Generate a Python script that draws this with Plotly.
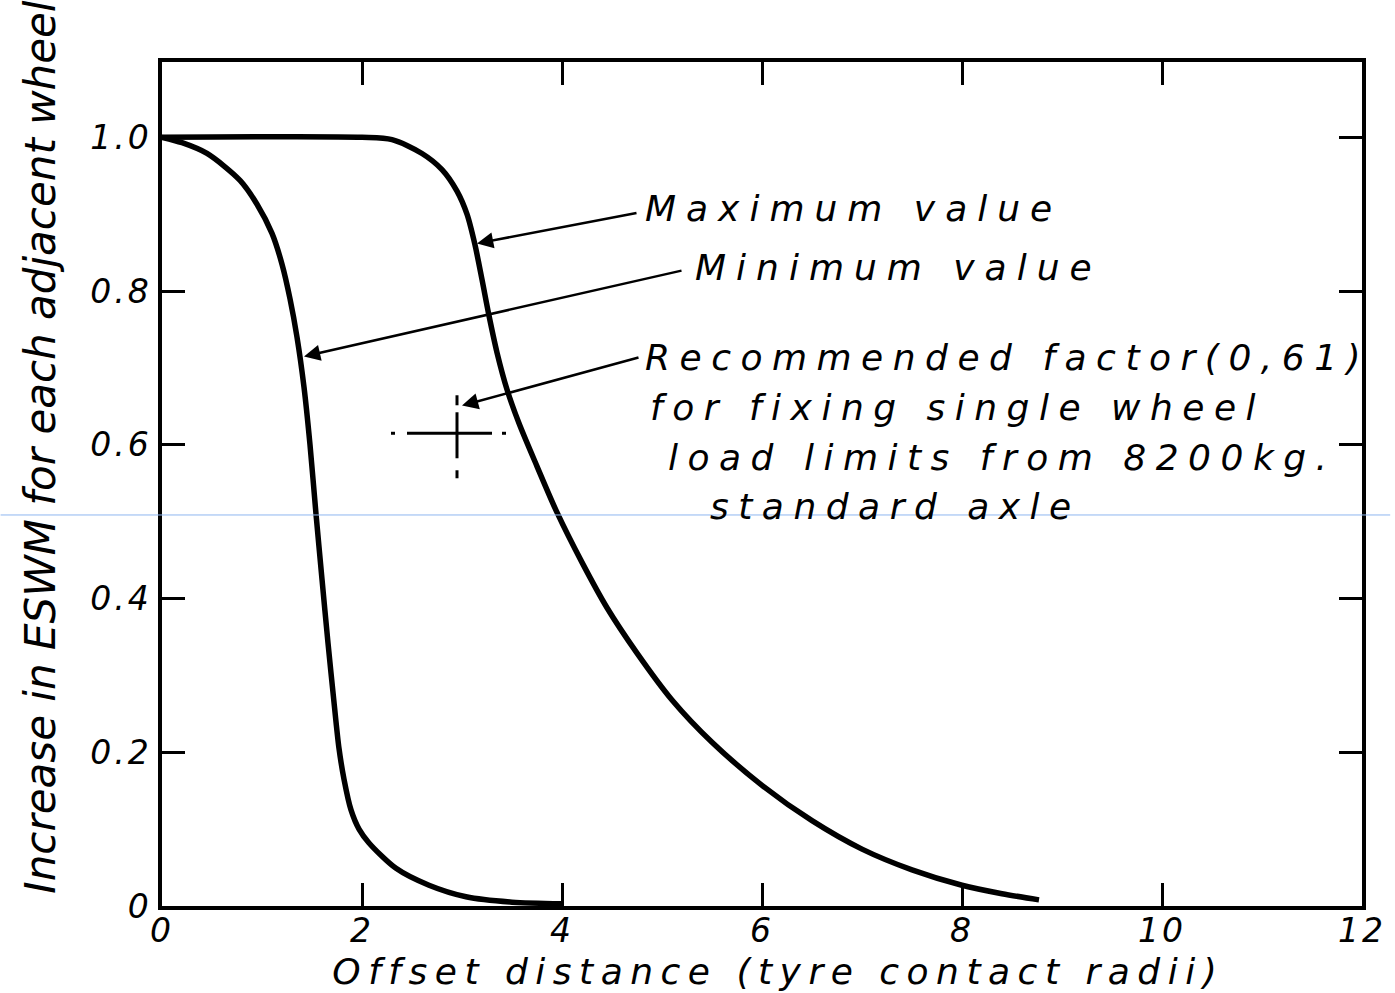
import json
import plotly.graph_objects as go

# ---- data ----
offset_max = [0, 2.0, 2.3, 2.6, 2.8, 2.95, 3.05, 3.13, 3.2, 3.27, 3.35, 3.45, 3.57, 3.75,
              3.95, 4.2, 4.45, 4.75, 5.1, 5.5, 6.0, 6.5, 7.0, 7.5, 8.0, 8.4, 8.77]
eswm_max = [1.0, 1.0, 0.997, 0.979, 0.958, 0.93, 0.90, 0.86, 0.815, 0.768, 0.72, 0.672, 0.628, 0.572,
            0.512, 0.447, 0.388, 0.329, 0.268, 0.213, 0.157, 0.111, 0.074, 0.047, 0.027, 0.016, 0.008]

offset_min = [0, 0.2, 0.45, 0.78, 0.95, 1.1, 1.2, 1.28, 1.35, 1.42, 1.48, 1.54, 1.6, 1.66, 1.72,
              1.77, 1.82, 1.89, 1.97, 2.07, 2.34, 2.67, 3.04, 3.5, 4.0]
eswm_min = [1.0, 0.993, 0.979, 0.944, 0.913, 0.875, 0.835, 0.79, 0.74, 0.675, 0.6, 0.51, 0.425, 0.342, 0.265,
            0.205, 0.165, 0.125, 0.1, 0.082, 0.049, 0.027, 0.012, 0.005, 0.003]

x_ticks = [0, 2, 4, 6, 8, 10, 12]
x_tick_labels = ["0", "2", "4", "6", "8", "10", "12"]
y_ticks = [0, 0.2, 0.4, 0.6, 0.8, 1.0]
y_tick_labels = ["0", "0.2", "0.4", "0.6", "0.8", "1.0"]

rec_offset = 2.95
rec_factor = 0.615

FONT = "DejaVu Sans"
BLACK = "black"

fig = go.Figure()
fig.add_trace(go.Scatter(x=offset_max, y=eswm_max, mode="lines",
                         line=dict(color=BLACK, width=5.5, shape="spline", smoothing=0.8),
                         name="Maximum value", showlegend=False, hoverinfo="skip"))
fig.add_trace(go.Scatter(x=offset_min, y=eswm_min, mode="lines",
                         line=dict(color=BLACK, width=5.5, shape="spline", smoothing=0.8),
                         name="Minimum value", showlegend=False, hoverinfo="skip"))

# crosshair marking the recommended factor (pixel-sized segments anchored at the data point)
shapes = []
def seg_h(x0, x1, w=3):
    shapes.append(dict(type="line", xref="x", yref="y", xsizemode="pixel", xanchor=rec_offset,
                       x0=x0, x1=x1, y0=rec_factor, y1=rec_factor, line=dict(color=BLACK, width=w)))
def seg_v(y0, y1, w=3):
    shapes.append(dict(type="line", xref="x", yref="y", ysizemode="pixel", yanchor=rec_factor,
                       y0=y0, y1=y1, x0=rec_offset, x1=rec_offset, line=dict(color=BLACK, width=w)))
seg_h(-50, 35)
seg_h(-66, -62)
seg_h(45, 49)
seg_v(-25, 21)
seg_v(28, 38)
seg_v(-37, -45)
# faint scan line across the page
shapes.append(dict(type="line", xref="paper", yref="paper", x0=-0.1345, x1=1.0235,
                   y0=0.4633, y1=0.4633, line=dict(color="#8fb6f0", width=1)))

annotations = []
spacing = []

def text_ann(txt, x, y, size=36, ls=9.5, **kw):
    d = dict(text=txt, x=x, y=y, xref="x", yref="y", xanchor="left", yanchor="middle",
             align="left", showarrow=False,
             font=dict(family=FONT, size=size, color=BLACK, style="italic"))
    d.update(kw)
    annotations.append(d)
    spacing.append(ls)

def arrow_ann(x, y, ax, ay):
    annotations.append(dict(text="", x=x, y=y, ax=ax, ay=ay, xref="x", yref="y",
                            axref="x", ayref="y", showarrow=True, arrowhead=2,
                            arrowsize=1.3, arrowwidth=2.5, arrowcolor=BLACK, standoff=0))
    spacing.append(0)

text_ann("Maximum value", 4.81, 0.908, ls=10)
text_ann("Minimum value", 5.31, 0.831, ls=10)
text_ann("Recommended factor(0,61)", 4.81, 0.714)
text_ann("for fixing single wheel", 4.86, 0.649)
text_ann("load limits from 8200kg.", 5.04, 0.583)
text_ann("standard axle", 5.46, 0.520)
arrow_ann(3.15, 0.862, 4.76, 0.902)
arrow_ann(1.42, 0.715, 5.21, 0.827)
arrow_ann(3.0, 0.651, 4.78, 0.714)

# axis titles as annotations (positioned like the reference)
annotations.append(dict(text="Offset distance (tyre contact radii)", xref="paper", yref="paper",
                        x=0.514, y=-0.078, xanchor="center", yanchor="middle", showarrow=False,
                        font=dict(family=FONT, size=36, color=BLACK, style="italic")))
spacing.append(7.5)
annotations.append(dict(text="Increase in ESWM for each adjacent wheel", xref="paper", yref="paper",
                        x=-0.101, y=0.544, xanchor="center", yanchor="middle", showarrow=False,
                        textangle=-90,
                        font=dict(family=FONT, size=42, color=BLACK, style="italic")))
spacing.append(0)

axis_common = dict(showgrid=False, zeroline=False, showline=True, linecolor=BLACK, linewidth=3.5,
                   mirror="ticks", ticks="inside", ticklen=23, tickwidth=3, tickcolor=BLACK,
                   tickfont=dict(family=FONT, size=33, color=BLACK, style="italic"))

fig.update_layout(
    width=1395, height=993,
    margin=dict(l=162, r=28, t=62, b=87),
    paper_bgcolor="white", plot_bgcolor="white",
    xaxis=dict(range=[0, 12], tickvals=x_ticks, ticktext=x_tick_labels,
               ticklabelstandoff=-7, **axis_common),
    yaxis=dict(range=[0, 1.098], tickvals=y_ticks, ticktext=y_tick_labels, **axis_common),
    shapes=shapes, annotations=annotations, showlegend=False,
)

post = """
document.body.style.margin='0';
document.body.style.overflow='hidden';
var gd=document.getElementById('{plot_id}');
var sp=%s;
gd.querySelectorAll('g.annotation').forEach(function(g){
  var i=parseInt(g.getAttribute('data-index'));
  var t=g.querySelector('text.annotation-text');
  if(t && sp[i]) t.style.letterSpacing=sp[i]+'px';
});
gd.querySelectorAll('.xtick text, .ytick text').forEach(function(t){t.style.letterSpacing='3px';});
""" % json.dumps(spacing)

fig.write_html("out.html", post_script=post, config={"displayModeBar": False})
